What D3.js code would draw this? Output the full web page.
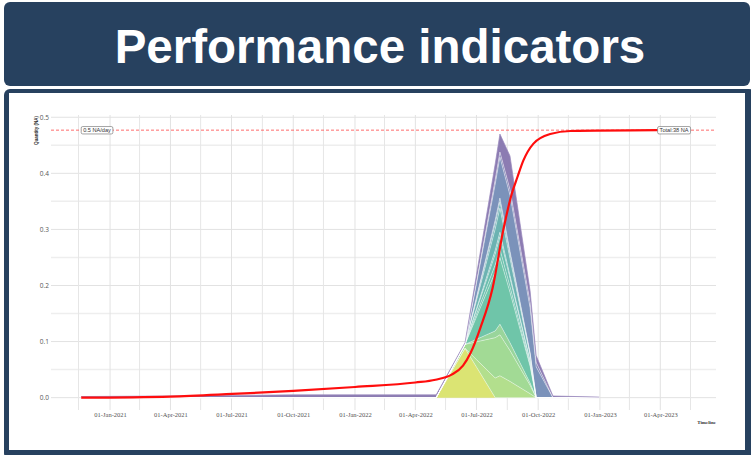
<!DOCTYPE html>
<html><head><meta charset="utf-8">
<script src="https://cdn.jsdelivr.net/npm/d3@7"></script>
<style>html,body{margin:0;padding:0;background:#fff;overflow:hidden}</style>
</head><body><svg id="c" width="751" height="455"></svg>
<script>
// ---------- data ----------
const titleText = "Performance indicators";
const yAxisTitle = "Quantity (NA)";
const xAxisTitle = "Timeline";
const rateLabel = "0.5 NA/day";
const totalLabel = "Total:38 NA";
const rateLevel = 0.477;

const stackDates = ["2020-11-19","2021-04-01","2021-07-02","2021-10-01","2022-01-01","2022-04-01",
  "2022-05-02","2022-06-14","2022-07-29","2022-08-05","2022-08-20","2022-09-19","2022-09-28","2022-10-23","2022-12-31"];
// series, bottom to top
const sY  = [0,0,0,0,0,0, 0,0.088,0,0,0,0,0,0,0];
const sG1 = [0,0,0,0,0,0, 0,0,0.035,0.039,0.029,0.007,0,0,0];
const sG2 = [0,0,0,0,0,0, 0,0.007,0.072,0.073,0.055,0.015,0,0,0];
const sG3 = [0,0,0,0,0,0, 0,0,0.012,0.019,0.014,0.004,0,0,0];
const sT1 = [0,0,0,0,0,0, 0,0,0.105,0.119,0.090,0.030,0,0,0];
const sT2 = [0,0,0,0,0,0, 0,0,0.013,0.015,0.010,0.003,0,0,0];
const sT3 = [0,0,0,0,0,0, 0,0,0.019,0.022,0.015,0.005,0,0,0];
const sT4 = [0,0,0,0,0,0, 0,0,0.007,0.008,0.005,0.002,0,0,0];
const sT5 = [0,0,0,0,0,0, 0,0,0.038,0.043,0.030,0.010,0,0,0];
const sT6 = [0,0,0,0,0,0, 0,0,0.010,0.011,0.008,0.002,0,0,0];
const sT7 = [0,0,0,0,0,0, 0,0,0.006,0.007,0.005,0.002,0,0,0];
const sB1 = [0,0,0,0,0,0, 0,0,0.064,0.073,0.100,0.080,0.055,0,0];
const sB2 = [0,0,0,0,0,0, 0,0,0.008,0.009,0.010,0.010,0.008,0,0];
const sP  = [0.002,0.003,0.004,0.005,0.005,0.005, 0.005,0.003,0.028,0.032,0.060,0.020,0.012,0.003,0.001];
const seriesNames  = ["Y","G1","G2","G3","T1","T2","T3","T4","T5","T6","T7","B1","B2","P"];
const seriesValues = [sY,sG1,sG2,sG3,sT1,sT2,sT3,sT4,sT5,sT6,sT7,sB1,sB2,sP];
const seriesColors = ["#dbe473","#b3df8d","#a2da95","#99d59b","#6fc5a9","#6cc1ab","#6abdae","#6bbab0",
  "#6cb3b2","#70adb5","#74a2b8","#7b92ba","#8487b8","#8c7cb2"];

const cumDates = ["2020-11-19","2021-04-01","2021-07-02","2021-10-01","2022-01-01","2022-04-01",
  "2022-05-01","2022-05-25","2022-06-11","2022-06-22","2022-07-07","2022-07-25","2022-08-10","2022-08-23","2022-08-31",
  "2022-09-09","2022-09-24","2022-10-19","2022-11-18","2023-03-28"];
const cumValues = [0,0.002,0.0066,0.012,0.019,0.027,
  0.032,0.041,0.057,0.079,0.125,0.195,0.299,0.365,0.393,
  0.423,0.453,0.470,0.4755,0.477];

const xDomain = ["2020-10-05","2023-06-23"];
const yDomain = [-0.022, 0.504];
const xMajorDates = ["2021-01-01","2021-04-01","2021-07-01","2021-10-01","2022-01-01","2022-04-01",
  "2022-07-01","2022-10-01","2023-01-01","2023-04-01"];
const xTickLabels = ["01-Jan-2021","01-Apr-2021","01-Jul-2021","01-Oct-2021","01-Jan-2022","01-Apr-2022",
  "01-Jul-2022","01-Oct-2022","01-Jan-2023","01-Apr-2023"];
const xMinorDates = ["2020-11-15","2021-02-14","2021-05-16","2021-08-16","2021-11-15","2022-02-14",
  "2022-05-16","2022-08-16","2022-11-15","2023-02-14","2023-05-16"];
const yMajor = [0,0.1,0.2,0.3,0.4,0.5];
const yTickLabels = ["0.0","0.1","0.2","0.3","0.4","0.5"];
const yMinor = [0.05,0.15,0.25,0.35,0.45];

// ---------- drawing ----------
const P = d3.timeParse("%Y-%m-%d");
const svg = d3.select("#c");
const navy = "#27415f";

// frames
svg.append("rect").attr("x",4).attr("y",2).attr("width",746).attr("height",84).attr("rx",6).attr("fill",navy);
svg.append("text").attr("x",380).attr("y",63).attr("text-anchor","middle")
  .attr("font-family","'Liberation Sans', Arial, sans-serif").attr("font-weight","bold")
  .attr("font-size",47.5).attr("fill","#fff").text(titleText);
svg.append("rect").attr("x",4).attr("y",89).attr("width",751).attr("height",370).attr("rx",6).attr("fill",navy);
svg.append("rect").attr("x",9).attr("y",93).attr("width",736).attr("height",357).attr("fill","#fff");

const x = d3.scaleTime().domain(xDomain.map(P)).range([51,716]);
const y = d3.scaleLinear().domain(yDomain).range([410,115]);
const [px0,px1] = x.range(), [py0,py1] = y.range();

const g = svg.append("g");
// grid
g.selectAll(".hmin").data(yMinor).join("line")
  .attr("x1",px0).attr("x2",px1).attr("y1",d=>y(d)).attr("y2",d=>y(d))
  .attr("stroke","#eeeeee").attr("stroke-width",1.5);
g.selectAll(".hmaj").data(yMajor).join("line")
  .attr("x1",px0).attr("x2",px1).attr("y1",d=>y(d)).attr("y2",d=>y(d))
  .attr("stroke","#e2e2e2").attr("stroke-width",1);
g.selectAll(".vmin").data(xMinorDates.map(P)).join("line")
  .attr("x1",d=>x(d)).attr("x2",d=>x(d)).attr("y1",py0).attr("y2",py1)
  .attr("stroke","#e6e6e6").attr("stroke-width",1);
g.selectAll(".vmaj").data(xMajorDates.map(P)).join("line")
  .attr("x1",d=>x(d)).attr("x2",d=>x(d)).attr("y1",py0).attr("y2",py1)
  .attr("stroke","#e2e2e2").attr("stroke-width",1);

// stacked areas
const rows = stackDates.map((d,i)=>{const r={date:P(d)}; seriesNames.forEach((n,k)=>r[n]=seriesValues[k][i]); return r;});
const stacked = d3.stack().keys(seriesNames)(rows);
const area = d3.area().x(d=>x(d.data.date)).y0(d=>y(d[0])).y1(d=>y(d[1]));
const upper = d3.line().x(d=>x(d.data.date)).y(d=>y(d[1]));
g.selectAll(".ar").data(stacked).join("path").attr("d",area)
  .attr("fill",(d,i)=>seriesColors[i]).attr("stroke","none");
g.selectAll(".ol").data(stacked).join("path").attr("d",upper)
  .attr("fill","none").attr("stroke",(d,i)=> i===seriesNames.length-1 ? "#9a88bd" : "#ffffff")
  .attr("stroke-opacity",(d,i)=> i===seriesNames.length-1 ? 1 : 0.6).attr("stroke-width",0.7);

// dashed rate line
g.append("line").attr("x1",px0).attr("x2",px1).attr("y1",y(rateLevel)).attr("y2",y(rateLevel))
  .attr("stroke","#ff5a5a").attr("stroke-width",0.9).attr("stroke-dasharray","3,2");

// cumulative curve
const cum = cumDates.map((d,i)=>({date:P(d), v:cumValues[i]}));
g.append("path").datum(cum).attr("fill","none").attr("stroke","#ff0d0d").attr("stroke-width",2.2)
  .attr("d", d3.line().x(d=>x(d.date)).y(d=>y(d.v)).curve(d3.curveMonotoneX));

// axes
const yAxis = d3.axisLeft(y).tickValues(yMajor).tickFormat((d,i)=>yTickLabels[i]).tickSize(0).tickPadding(2);
const ya = svg.append("g").attr("transform",`translate(${px0},0)`).call(yAxis);
ya.select(".domain").remove();
ya.selectAll("text").attr("font-family","'Open Sans', 'DejaVu Sans', sans-serif").attr("font-size",6.5).attr("fill","#555");

const xAxis = d3.axisBottom(x).tickValues(xMajorDates.map(P)).tickFormat((d,i)=>xTickLabels[i]).tickSize(0).tickPadding(2);
const xa = svg.append("g").attr("transform",`translate(0,${py0})`).call(xAxis);
xa.select(".domain").remove();
xa.selectAll("text").attr("font-family","'Liberation Serif', serif").attr("font-size",6.5).attr("fill","#555");

// axis titles
svg.append("text").attr("transform",`translate(38,${py1+1}) rotate(-90)`).attr("text-anchor","end")
  .attr("font-family","'Liberation Sans', sans-serif").attr("font-weight","bold").attr("font-size",4.5)
  .attr("fill","#333").text(yAxisTitle);
svg.append("text").attr("x",px1).attr("y",424).attr("text-anchor","end")
  .attr("font-family","'Liberation Serif', serif").attr("font-weight","bold").attr("font-size",5)
  .attr("fill","#333").text(xAxisTitle);

// labels
function boxLabel(date, v, txt){
  const lg = svg.append("g");
  const t = lg.append("text").attr("x",x(date)+2).attr("y",y(v)+2)
    .attr("font-family","'Liberation Sans', sans-serif").attr("font-size",5.6).attr("fill","#333").text(txt);
  const w = t.node().getComputedTextLength();
  lg.insert("rect","text").attr("x",x(date)).attr("y",y(v)-3.6).attr("width",w+4).attr("height",7.4)
    .attr("rx",1.5).attr("fill","#fff").attr("stroke","#666").attr("stroke-width",0.6);
}
boxLabel(P(cumDates[0]), rateLevel, rateLabel);
boxLabel(P(cumDates[cumDates.length-1]), rateLevel, totalLabel);
</script></body></html>
